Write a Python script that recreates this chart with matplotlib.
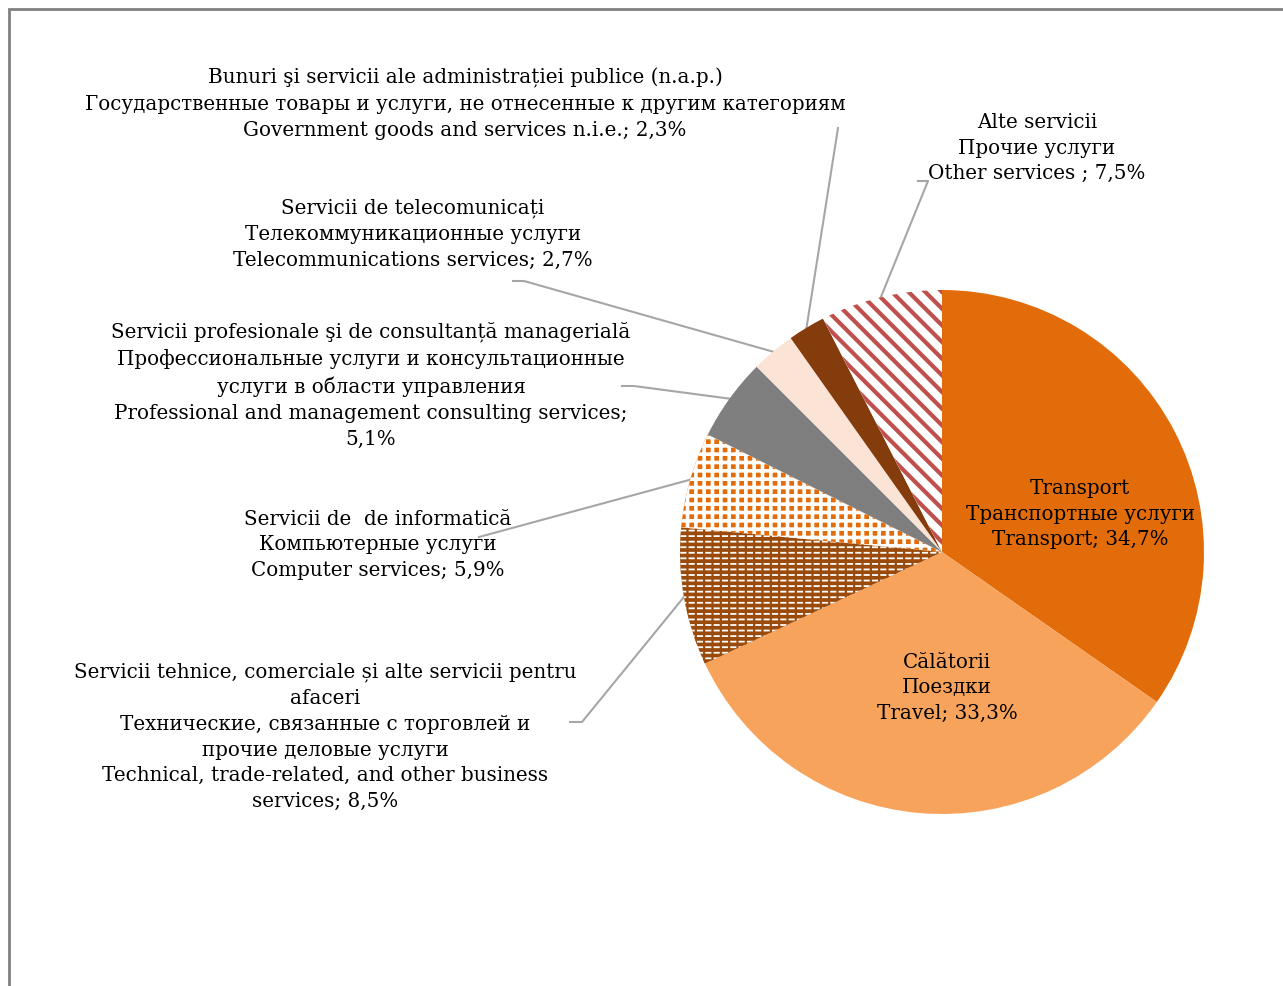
import numpy as np
import matplotlib
matplotlib.use("Agg")
import matplotlib.pyplot as plt
from matplotlib.patches import Rectangle, Wedge

plt.rcParams['font.family'] = ['DejaVu Serif']

shares = [34.7, 33.3, 8.5, 5.9, 5.1, 2.7, 2.3, 7.5]
labels = [
    "Transport\nТранспортные услуги\nTransport; 34,7%",
    "Călătorii\nПоездки\nTravel; 33,3%",
    "Servicii tehnice, comerciale și alte servicii pentru\nafaceri\n"
    "Технические, связанные с торговлей и\nпрочие деловые услуги\n"
    "Technical, trade-related, and other business\nservices; 8,5%",
    "Servicii de  de informatică\nКомпьютерные услуги\nComputer services; 5,9%",
    "Servicii profesionale şi de consultanță managerială\n"
    "Профессиональные услуги и консультационные\nуслуги в области управления\n"
    "Professional and management consulting services;\n5,1%",
    "Servicii de telecomunicați\nТелекоммуникационные услуги\nTelecommunications services; 2,7%",
    "Bunuri şi servicii ale administrației publice (n.a.p.)\n"
    "Государственные товары и услуги, не отнесенные к другим категориям\n"
    "Government goods and services n.i.e.; 2,3%",
    "Alte servicii\nПрочие услуги\nOther services ; 7,5%",
]
colors = ['#E36C0A', '#F8A35B', '#9A4A0A', '#E36C0A', '#7F7F7F', '#FBE3D5', '#843C0C', 'white']
hatches = [None, None, '---', '++', None, None, None, '\\\\']
hatch_colors = [None, None, 'white', 'white', None, None, None, '#C0504D']
hatch_widths = [0, 0, 1.3, 2.6, 0, 0, 0, 3.0]

W, H = 1283, 986
fig = plt.figure(figsize=(W / 100, H / 100), dpi=100)
ax = fig.add_axes([0, 0, 1, 1])

cx, cy, R = 942, H - 552, 262
wedges, _ = ax.pie(shares, startangle=90, counterclock=False, colors=colors,
                   center=(cx, cy), radius=R, frame=True,
                   wedgeprops=dict(linewidth=0))
ax.set_xlim(0, W)
ax.set_ylim(0, H)
ax.axis('off')

for w, h, hc, hw in zip(wedges, hatches, hatch_colors, hatch_widths):
    if h:
        w.set_hatch(h)
        w.set_edgecolor(hc)
        w.set_linewidth(0)
        w.set_hatch_linewidth(hw)

# break the white lines of the technical-services wedge into dashes
tw = wedges[2]
brk = Wedge((cx, cy), R, tw.theta1, tw.theta2, facecolor='none',
            edgecolor='#9A4A0A', linewidth=0, hatch='||')
brk.set_hatch_linewidth(1.6)
ax.add_patch(brk)

fs = 14.3
txt = dict(fontsize=fs, ha='center', va='center', linespacing=1.45, color='black')
inner = {0: (1080, 514), 1: (947, 688)}
for i, (x, y) in inner.items():
    ax.text(x, H - y, labels[i], **txt)

outer = {
    2: (325, 737, [(570, 722), (582, 722)]),
    3: (378, 545, [(479, 537)]),
    4: (371, 385, [(622, 386), (634, 386)]),
    5: (413, 234, [(513, 281), (524, 281)]),
    6: (465, 104, [(838, 128)]),
    7: (1037, 148, [(918, 181), (928, 181)]),
}
for i, (x, y, pts) in outer.items():
    ax.text(x, H - y, labels[i], **txt)
    w = wedges[i]
    mid = np.deg2rad((w.theta1 + w.theta2) / 2)
    ex, ey = cx + R * np.cos(mid), cy + R * np.sin(mid)
    xs = [p[0] for p in pts] + [ex]
    ys = [H - p[1] for p in pts] + [ey]
    ax.plot(xs, ys, color='#A6A6A6', lw=1.5, zorder=0.5)

# chart border (only left and top visible)
fig.patches.append(Rectangle((9 / W, -0.1), 1.2, 1.1 - 9 / H, transform=fig.transFigure,
                             fill=False, edgecolor='#808080', lw=2))

fig.savefig('out.png', dpi=100)
